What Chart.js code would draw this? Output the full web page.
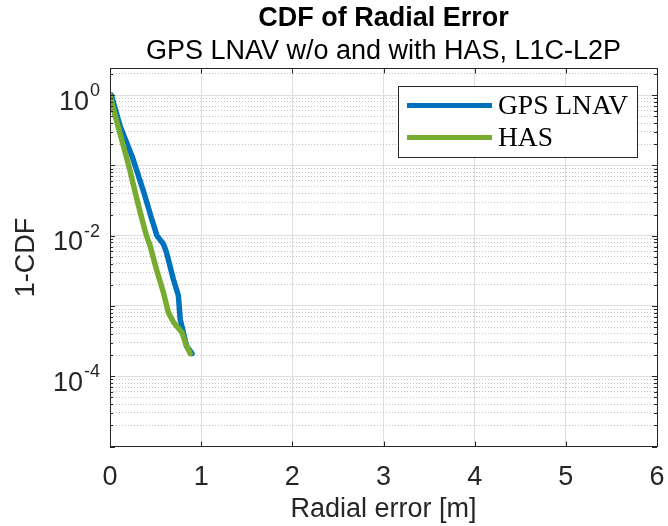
<!DOCTYPE html>
<html>
<head>
<meta charset="utf-8">
<script src="https://cdn.jsdelivr.net/npm/chart.js@4.4.1/dist/chart.umd.min.js"></script>
<style>
  body { margin: 0; background: #fff; }
  #wrap { width: 668px; height: 526px; }
</style>
</head>
<body>
<div id="wrap"><canvas id="cdfChart" width="668" height="526"></canvas></div>
<script>
"use strict";

// axis ticks
const xTicks = [0, 1, 2, 3, 4, 5, 6];
const yDecades = [-5, -4, -3, -2, -1, 0];
const yLabelExps = [0, -2, -4];
const yMin = 1e-5;
const yMax = 2.4;

// series
const seriesNames = ['GPS LNAV', 'HAS'];
const gpsErr = [0.015, 0.11, 0.25, 0.37, 0.457, 0.515, 0.586, 0.62, 0.695, 0.75, 0.77, 0.805, 0.84, 0.90];
const gpsCdf = [1, 0.363, 0.126, 0.0417, 0.0174, 0.0100, 0.0076, 0.00575, 0.0024, 0.00141, 0.000646, 0.000417, 0.000269, 0.00021];
const hasErr = [0, 0.06, 0.205, 0.295, 0.35, 0.40, 0.44, 0.51, 0.586, 0.64, 0.695, 0.79, 0.84, 0.88];
const hasCdf = [1, 0.49, 0.1, 0.033, 0.0174, 0.01, 0.0072, 0.0033, 0.00155, 0.00081, 0.00059, 0.000417, 0.000269, 0.00021];

const AXIS_COLOR = '#262626';
const SANS = "'Liberation Sans', Arial, sans-serif";
const SERIF = "'Liberation Serif', 'Times New Roman', serif";

Chart.defaults.font.family = SANS;
Chart.defaults.color = AXIS_COLOR;

function logTicks() {
  let out = [];
  yDecades.forEach(e => {
    for (let s = 1; s <= 9; s++) {
      const v = s * Math.pow(10, e);
      if (v >= yMin && v <= yMax) out.push({ value: v, major: s === 1 });
    }
  });
  return out;
}

function toPoints(xs, ys) {
  return xs.map((x, i) => ({ x: x, y: ys[i] }));
}

// box on top and right, inward tick marks like matlab
const axesBox = {
  id: 'axesBox',
  afterDatasetsDraw(chart) {
    const { ctx, chartArea: a, scales } = chart;
    ctx.save();
    ctx.strokeStyle = AXIS_COLOR;
    ctx.lineWidth = 1;
    ctx.beginPath();
    xTicks.forEach(v => {
      const px = Math.round(scales.x.getPixelForValue(v)) + 0.5;
      ctx.moveTo(px, a.bottom); ctx.lineTo(px, a.bottom - 5);
      ctx.moveTo(px, a.top); ctx.lineTo(px, a.top + 5);
    });
    scales.y.ticks.forEach(t => {
      const py = Math.round(scales.y.getPixelForValue(t.value)) + 0.5;
      const len = t.major ? 5 : 3;
      ctx.moveTo(a.left, py); ctx.lineTo(a.left + len, py);
      ctx.moveTo(a.right, py); ctx.lineTo(a.right - len, py);
    });
    ctx.stroke();
    ctx.strokeRect(Math.round(a.left) + 0.5, Math.round(a.top) + 0.5,
      Math.round(a.right - a.left), Math.round(a.bottom - a.top));
    ctx.restore();
  }
};

// y tick labels as 10 with a raised exponent
const expLabels = {
  id: 'expLabels',
  afterDraw(chart) {
    const { ctx, chartArea: a, scales } = chart;
    ctx.save();
    ctx.fillStyle = AXIS_COLOR;
    ctx.textBaseline = 'middle';
    ctx.textAlign = 'right';
    yLabelExps.forEach(e => {
      const py = scales.y.getPixelForValue(Math.pow(10, e));
      const right = a.left - 10;
      ctx.font = '18px ' + SANS;
      const expText = String(e);
      const w = ctx.measureText(expText).width;
      ctx.fillText(expText, right, py - 4);
      ctx.font = '27px ' + SANS;
      ctx.fillText('10', right - w - 1, py + 7);
    });
    ctx.restore();
  }
};

const boxLegend = {
  id: 'boxLegend',
  afterDraw(chart) {
    const { ctx, chartArea: a } = chart;
    const w = 239, h = 71;
    const left = a.right - 20 - w;
    const top = a.top + 17.5;
    ctx.save();
    ctx.fillStyle = '#fff';
    ctx.fillRect(left, top, w, h);
    ctx.strokeStyle = AXIS_COLOR;
    ctx.lineWidth = 1;
    ctx.strokeRect(Math.round(left) + 0.5, Math.round(top) + 0.5, w, h);
    ctx.font = '27.5px ' + SERIF;
    ctx.textBaseline = 'middle';
    ctx.textAlign = 'left';
    chart.data.datasets.forEach((ds, i) => {
      const y = top + 19.5 + i * 32;
      ctx.strokeStyle = ds.borderColor;
      ctx.lineWidth = 5;
      ctx.beginPath();
      ctx.moveTo(left + 9, y);
      ctx.lineTo(left + 94, y);
      ctx.stroke();
      ctx.fillStyle = '#000';
      ctx.fillText(ds.label, left + 100, y + 1);
    });
    ctx.restore();
  }
};

const chart = new Chart(document.getElementById('cdfChart'), {
  type: 'line',
  data: {
    datasets: [{
      label: seriesNames[0],
      data: toPoints(gpsErr, gpsCdf),
      borderColor: '#0072BD',
      borderWidth: 5.5,
      pointRadius: 0,
      borderCapStyle: 'round',
      borderJoinStyle: 'round',
      order: 1
    }, {
      label: seriesNames[1],
      data: toPoints(hasErr, hasCdf),
      borderColor: '#77AC30',
      borderWidth: 5.5,
      pointRadius: 0,
      borderCapStyle: 'round',
      borderJoinStyle: 'round',
      order: 0
    }]
  },
  options: {
    responsive: false,
    animation: false,
    layout: { padding: { left: 0, right: 0, top: 0, bottom: 0 } },
    plugins: {
      legend: { display: false },
      tooltip: { enabled: false },
      title: {
        display: true,
        fullSize: false,
        text: 'CDF of Radial Error',
        color: '#000',
        font: { size: 27, weight: 'bold' },
        padding: { top: 2.3, bottom: 1.1 }
      },
      subtitle: {
        display: true,
        fullSize: false,
        text: 'GPS LNAV w/o and with HAS, L1C-L2P',
        color: '#000',
        font: { size: 27 },
        padding: { top: 0, bottom: 0.2 }
      }
    },
    scales: {
      x: {
        type: 'linear',
        min: 0,
        max: 6,
        afterBuildTicks: s => { s.ticks = xTicks.map(v => ({ value: v })); },
        afterFit: s => {
          s.height = 79.5;
          s.paddingLeft = 0;
          s.paddingRight = 0;
        },
        ticks: { font: { size: 27 }, padding: 15, color: AXIS_COLOR },
        grid: {
          drawTicks: false,
          color: c => (c.tick && (c.tick.value === 0 || c.tick.value === 6)) ? 'rgba(0,0,0,0)' : '#dedede'
        },
        border: { color: AXIS_COLOR, width: 1 },
        title: {
          display: true,
          text: 'Radial error [m]',
          font: { size: 27 },
          color: AXIS_COLOR,
          padding: { top: 0, bottom: 0 }
        }
      },
      y: {
        type: 'logarithmic',
        position: 'left',
        min: yMin,
        max: yMax,
        afterBuildTicks: s => { s.ticks = logTicks(); },
        afterFit: s => { s.width = 110; },
        ticks: { display: false },
        grid: {
          drawTicks: false,
          color: c => (c.tick && c.tick.major) ? '#dedede' : 'rgba(0,0,0,0)'
        },
        border: { color: AXIS_COLOR, width: 1 },
        title: {
          display: true,
          text: '1-CDF',
          font: { size: 27 },
          color: AXIS_COLOR,
          padding: { top: 10, bottom: 0 }
        }
      },
      yMinor: {
        type: 'logarithmic',
        position: 'right',
        min: yMin,
        max: yMax,
        afterBuildTicks: s => { s.ticks = logTicks(); },
        afterFit: s => { s.width = 11; },
        ticks: { display: false },
        grid: {
          drawTicks: false,
          lineWidth: 1,
          color: c => (c.tick && !c.tick.major) ? '#c4c4c4' : 'rgba(0,0,0,0)'
        },
        border: { display: false, dash: [1, 2] }
      }
    }
  },
  plugins: [axesBox, expLabels, boxLegend]
});
</script>
</body>
</html>
